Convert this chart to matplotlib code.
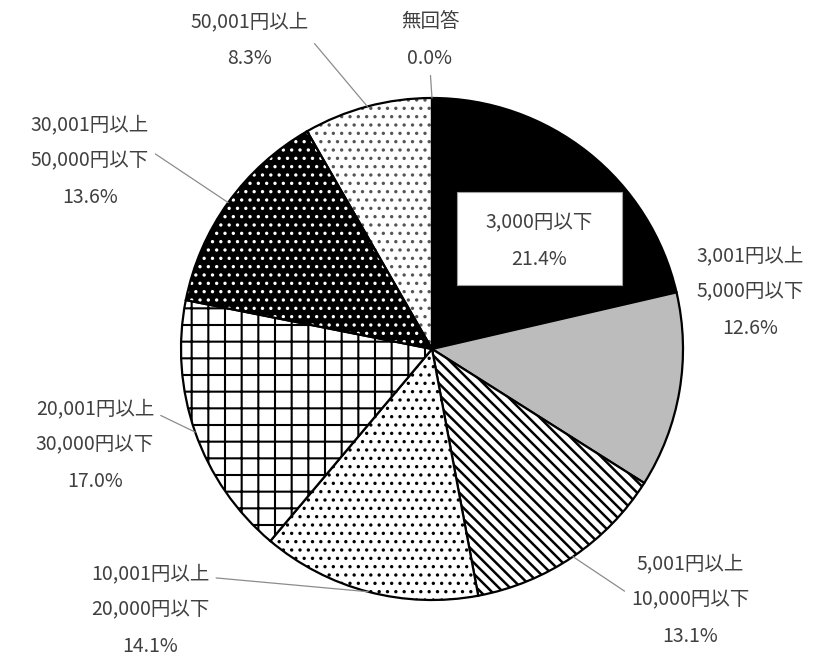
import numpy as np
import matplotlib
matplotlib.use('Agg')
import matplotlib.pyplot as plt
from matplotlib.patches import Wedge, Rectangle

plt.rcParams['font.family'] = ['Noto Sans CJK JP', 'DejaVu Sans']
plt.rcParams['hatch.linewidth'] = 1.2

categories = ['3,000円以下', '3,001円以上\n5,000円以下', '5,001円以上\n10,000円以下',
              '10,001円以上\n20,000円以下', '20,001円以上\n30,000円以下',
              '30,001円以上\n50,000円以下', '50,001円以上', '無回答']
values = [21.4, 12.6, 13.1, 14.1, 17.0, 13.6, 8.3, 0.0]

W, H = 825, 659
fig = plt.figure(figsize=(W / 100, H / 100), dpi=100)
ax = fig.add_axes([0, 0, 1, 1])

def Y(py):
    return H - py

cx, cy, R = 432, Y(349), 251
wedges, _ = ax.pie(values, startangle=90, counterclock=False, center=(cx, cy), radius=R,
                   normalize=True,
                   wedgeprops=dict(linewidth=1.6, edgecolor='black'))
ax.set_xlim(0, W)
ax.set_ylim(0, H)
ax.set_aspect('equal')
ax.axis('off')

styles = [
    dict(facecolor='black', hatch=None, edgecolor='black', hlw=1.2),
    dict(facecolor='#bcbcbc', hatch=None, edgecolor='black', hlw=1.2),
    dict(facecolor='white', hatch='\\\\\\', edgecolor='black', hlw=1.8),
    dict(facecolor='white', hatch='..', edgecolor='black', hlw=1.2),
    dict(facecolor='white', hatch='+', edgecolor='black', hlw=1.5),
    dict(facecolor='black', hatch='..', edgecolor='white', hlw=1.2),
    dict(facecolor='white', hatch='..', edgecolor='#555555', hlw=1.2),
    dict(facecolor='white', hatch=None, edgecolor='black', hlw=1.2),
]
for w, st in zip(wedges, styles):
    w.set_facecolor(st['facecolor'])
    w.set_edgecolor(st['edgecolor'])
    if st['hatch']:
        w.set_hatch(st['hatch'])
        if hasattr(w, 'set_hatch_linewidth'):
            w.set_hatch_linewidth(st['hlw'])
        else:
            w._hatch_linewidth = st['hlw']
    if st['edgecolor'] != 'black':
        w.set_linewidth(0)
        ax.add_patch(Wedge(w.center, w.r, w.theta1, w.theta2, fill=False,
                           edgecolor='black', linewidth=1.6, zorder=w.get_zorder() + 0.1))

def label(i):
    return f"{categories[i]}\n{values[i]:.1f}%"

def mid_point(i):
    w = wedges[i]
    a = np.deg2rad((w.theta1 + w.theta2) / 2)
    return (w.center[0] + w.r * np.cos(a), w.center[1] + w.r * np.sin(a))

tc = '#404040'
fs = 14
ls = 1.95

# inside label with white box
ax.add_patch(Rectangle((457, Y(285)), 165, 93, facecolor='white', edgecolor='#a0a0a0',
                       linewidth=0.8, zorder=5))
ax.text(539, Y(241), label(0), ha='center', va='center', fontsize=fs, color=tc,
        linespacing=2.0, zorder=6)

# outside labels (text centre positions in pixels from top), leader attach point on text box
pos = {1: (750, 292), 2: (690, 600), 3: (150, 610), 4: (95, 445),
       5: (90, 161), 6: (250, 40), 7: (430, 40)}
relpos = {2: (0.0, 0.55), 3: (1.0, 0.85), 4: (1.0, 0.85), 5: (1.0, 0.62),
          6: (1.0, 0.55), 7: (0.5, 0.0)}
for i, (px, py) in pos.items():
    if i in relpos:
        ax.annotate(label(i), xy=mid_point(i), xytext=(px, Y(py)), ha='center', va='center',
                    fontsize=fs, color=tc, linespacing=ls,
                    arrowprops=dict(arrowstyle='-', color='#8c8c8c', lw=0.9,
                                    relpos=relpos[i], shrinkA=3, shrinkB=0))
    else:
        ax.text(px, Y(py), label(i), ha='center', va='center', fontsize=fs, color=tc,
                linespacing=ls)

fig.savefig('out.png', dpi=100)
